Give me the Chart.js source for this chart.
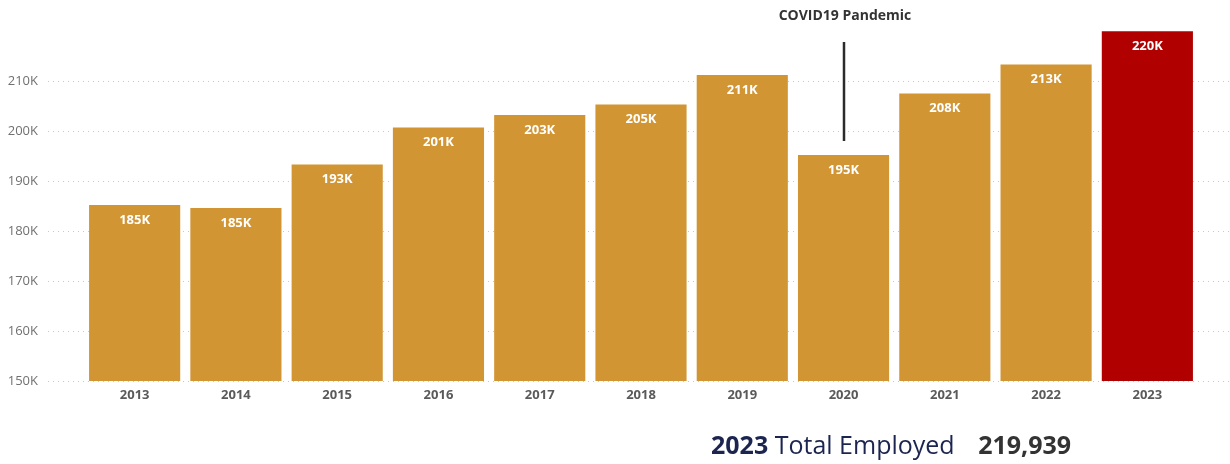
<!DOCTYPE html>
<html>
<head>
<meta charset="utf-8">
<script src="https://cdn.jsdelivr.net/npm/chart.js@4/dist/chart.umd.min.js"></script>
<style>
  html, body { margin: 0; padding: 0; background: #fff; }
  #wrap { position: relative; width: 1230px; height: 464px; }
  #c { position: absolute; left: 0; top: 0; }
  #total { position: absolute; left: 711px; top: 432px; font-family: "Open Sans", "Noto Sans", sans-serif; font-size: 25px; white-space: nowrap; line-height: 1; }
  #total .yr { font-weight: 700; color: #1c2550; }
  #total .lbl { color: #1c2550; }
  #total .num { font-weight: 700; color: #333; margin-left: 17px; }
</style>
</head>
<body>
<div id="wrap">
  <canvas id="c" width="1230" height="464"></canvas>
  <div id="total"><span class="yr">2023</span> <span class="lbl">Total Employed</span> <span class="num">219,939</span></div>
</div>
<script>
const years = ["2013","2014","2015","2016","2017","2018","2019","2020","2021","2022","2023"];
const employed = [185200, 184600, 193300, 200700, 203200, 205300, 211200, 195200, 207500, 213300, 219939];
const yTicks = [150000, 160000, 170000, 180000, 190000, 200000, 210000];
const annotationText = "COVID19 Pandemic";
const annotationYear = "2020";
const annotationTop = 217800;
const annotationBottom = 198000;

const baseColor = "#D29534";
const highlightColor = "#B00000";
const barColors = years.map((y, i) => i === years.length - 1 ? highlightColor : baseColor);
const FONT = '"Open Sans", "Noto Sans", sans-serif';

const gridPlugin = {
  id: 'dotGrid',
  beforeDatasetsDraw(chart) {
    const ctx = chart.ctx, ys = chart.scales.y;
    ctx.save();
    ctx.strokeStyle = '#c8c8c8';
    ctx.lineWidth = 1;
    ctx.setLineDash([1, 4]);
    yTicks.forEach(v => {
      const py = Math.round(ys.getPixelForValue(v)) + 0.5;
      ctx.beginPath();
      ctx.moveTo(48, py);
      ctx.lineTo(chart.width, py);
      ctx.stroke();
    });
    ctx.restore();
  }
};

const labelPlugin = {
  id: 'barLabels',
  afterDatasetsDraw(chart) {
    const ctx = chart.ctx;
    const meta = chart.getDatasetMeta(0);
    ctx.save();
    ctx.fillStyle = '#ffffff';
    ctx.font = 'bold 13px ' + FONT;
    ctx.textAlign = 'center';
    ctx.textBaseline = 'middle';
    meta.data.forEach((bar, i) => {
      ctx.fillText(Math.round(employed[i] / 1000) + 'K', bar.x, bar.y + 15);
    });
    ctx.restore();
  }
};

const annotationPlugin = {
  id: 'covid',
  afterDatasetsDraw(chart) {
    const ctx = chart.ctx, xs = chart.scales.x, ys = chart.scales.y;
    const idx = years.indexOf(annotationYear);
    const px = Math.round(xs.getPixelForValue(idx));
    const top = ys.getPixelForValue(annotationTop);
    const bot = ys.getPixelForValue(annotationBottom);
    ctx.save();
    ctx.strokeStyle = '#2b2b2b';
    ctx.lineWidth = 2.5;
    ctx.beginPath();
    ctx.moveTo(px, top);
    ctx.lineTo(px, bot);
    ctx.stroke();
    ctx.fillStyle = '#333333';
    ctx.font = 'bold 14px ' + FONT;
    ctx.textAlign = 'center';
    ctx.textBaseline = 'middle';
    ctx.fillText(annotationText, px + 1, top - 26);
    ctx.restore();
  }
};

new Chart(document.getElementById('c'), {
  type: 'bar',
  data: {
    labels: years,
    datasets: [{
      data: employed,
      backgroundColor: barColors,
      borderWidth: 0,
      categoryPercentage: 1,
      barPercentage: 0.9
    }]
  },
  options: {
    responsive: false,
    animation: false,
    events: [],
    layout: { padding: { top: 31, right: 32, bottom: 53, left: 0 } },
    plugins: { legend: { display: false }, tooltip: { enabled: false } },
    scales: {
      x: {
        grid: { display: false, drawTicks: false },
        border: { display: false },
        ticks: { color: '#5a5a5a', font: { family: FONT, size: 13, weight: 'bold' }, padding: 6 },
        afterFit(scale) { scale.height = 30; }
      },
      y: {
        min: 150000,
        max: 220000,
        grid: { display: false, drawTicks: true, tickLength: 46 },
        border: { display: false },
        afterBuildTicks(scale) { scale.ticks = yTicks.map(v => ({ value: v })); },
        ticks: {
          color: '#707070',
          font: { family: FONT, size: 13 },
          padding: 0,
          callback: v => (v / 1000) + 'K'
        },
        afterFit(scale) { scale.width = 84; scale.paddingTop = 0; scale.paddingBottom = 0; }
      }
    }
  },
  plugins: [gridPlugin, labelPlugin, annotationPlugin]
});
</script>
</body>
</html>
